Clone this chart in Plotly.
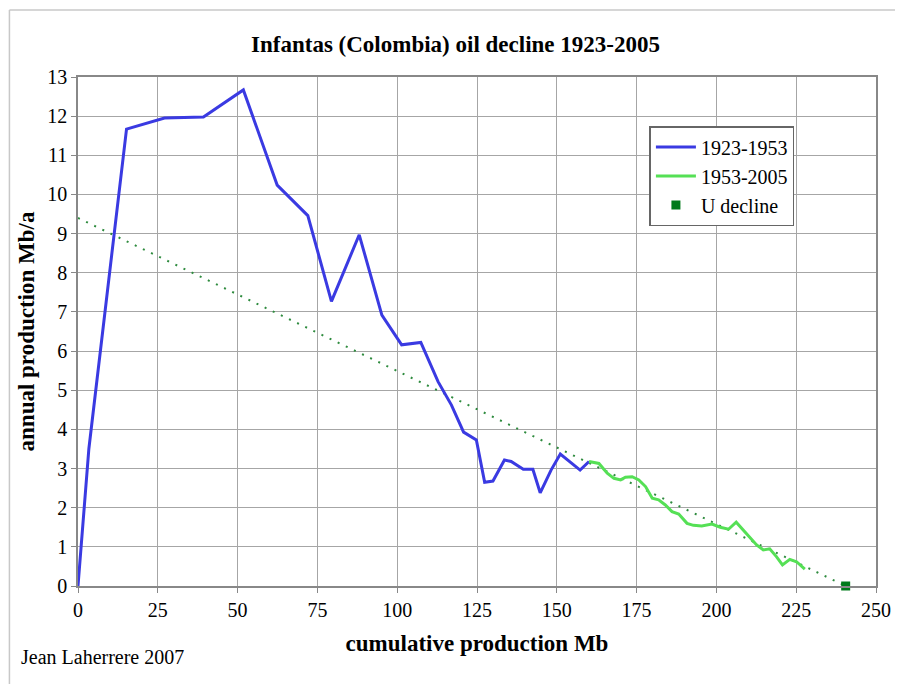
import plotly.graph_objects as go

# 1923-1953 (blue): cumulative production Mb vs annual production Mb/a
early_cum = [0, 3.4, 15.2, 27.1, 39.3, 51.8, 62.4, 72.0, 79.4, 88.1, 95.2, 101.4, 107.4,
             112.8, 117.0, 120.8, 124.8, 127.4, 130.0, 133.6, 135.7, 139.5, 142.5,
             144.8, 148.2, 151.1, 157.3, 160.1]
early_prod = [0, 3.5, 11.67, 11.95, 11.98, 12.67, 10.24, 9.46, 7.27, 8.97, 6.92, 6.16, 6.22,
              5.22, 4.62, 3.93, 3.73, 2.65, 2.68, 3.22, 3.18, 2.98, 2.98,
              2.38, 2.96, 3.37, 2.96, 3.18]

# 1953-2005 (green)
late_cum = [160.1, 163.2, 165.8, 167.9, 170.0, 171.5, 173.6, 175.7, 177.8, 179.9, 181.9,
            184.0, 186.1, 188.2, 190.8, 192.8, 195.4, 198.6, 201.2, 203.8, 206.2, 208.4,
            210.5, 212.6, 214.7, 216.7, 218.8, 220.7, 223.0, 225.1, 227.7]
late_prod = [3.18, 3.13, 2.88, 2.75, 2.71, 2.78, 2.79, 2.71, 2.54, 2.24, 2.20,
             2.07, 1.90, 1.84, 1.60, 1.55, 1.53, 1.58, 1.50, 1.45, 1.63, 1.43,
             1.22, 1.05, 0.92, 0.95, 0.75, 0.54, 0.68, 0.62, 0.43]

# linear decline trend and ultimate
trend_cum = [0, 240.5]
trend_prod = [9.4, 0]
u_cum = [240.5]
u_prod = [0]

FONT = "Liberation Serif"
GRID = "#a6a6a6"
W, H = 895, 676          # page body adds an 8px offset
L, T, PW, PH = 70, 69, 803, 509


def px(x):
    return (x - L) / PW


def py(y):
    return (T + PH - y) / PH


fig = go.Figure()
fig.add_trace(go.Scatter(x=trend_cum, y=trend_prod, mode="lines", showlegend=False,
                         line=dict(color="#2e8b3e", width=2, dash="2px,7px")))
fig.add_trace(go.Scatter(x=early_cum, y=early_prod, mode="lines", name="1923-1953",
                         line=dict(color="#3a3ae2", width=3)))
fig.add_trace(go.Scatter(x=late_cum, y=late_prod, mode="lines", name="1953-2005",
                         line=dict(color="#55e055", width=3)))
fig.add_trace(go.Scatter(x=u_cum, y=u_prod, mode="markers", name="U decline", cliponaxis=False,
                         marker=dict(symbol="square", size=9, color="#007a1a")))

fig.update_layout(
    width=W, height=H,
    margin=dict(l=L, r=W - L - PW, t=T, b=H - T - PH),
    paper_bgcolor="white", plot_bgcolor="white",
    font=dict(family=FONT, size=20, color="black"),
    title=dict(text="<b>Infantas (Colombia) oil decline 1923-2005</b>",
               x=0.5, xanchor="center", y=1 - 36 / H, yanchor="middle",
               font=dict(size=23)),
    legend=dict(x=px(645), y=py(118), xanchor="left", yanchor="top",
                bgcolor="white", bordercolor="#666666", borderwidth=1.5,
                font=dict(size=20), tracegroupgap=0, itemwidth=40),
    showlegend=True,
)

fig.update_xaxes(range=[0, 250], dtick=25, tick0=0, showgrid=True, gridcolor=GRID, gridwidth=1,
                 showline=True, linecolor="#888888", linewidth=1.5, mirror=True,
                 ticks="outside", ticklen=5, tickcolor="#888888", zeroline=False,
                 title=dict(text="<b>cumulative production Mb</b>", font=dict(size=23), standoff=15))
fig.update_yaxes(range=[0, 13], dtick=1, tick0=0, showgrid=True, gridcolor=GRID, gridwidth=1,
                 showline=True, linecolor="#888888", linewidth=1.5, mirror=True,
                 ticks="outside", ticklen=5, tickcolor="#888888", zeroline=False,
                 title=dict(text="<b>annual production Mb/a</b>", font=dict(size=23), standoff=6))

# outer chart frame (top and left edges visible)
fig.add_shape(type="line", xref="paper", yref="paper", x0=px(1), x1=px(W + 20),
              y0=py(2), y1=py(2), line=dict(color="#c8c8c8", width=1.5))
fig.add_shape(type="line", xref="paper", yref="paper", x0=px(1), x1=px(1),
              y0=py(2), y1=py(H + 20), line=dict(color="#c8c8c8", width=1.5))

fig.add_annotation(text="Jean Laherrere 2007", xref="paper", yref="paper",
                   x=px(11), y=py(649), xanchor="left", yanchor="middle",
                   showarrow=False, font=dict(size=20))

fig.write_html("out.html")
